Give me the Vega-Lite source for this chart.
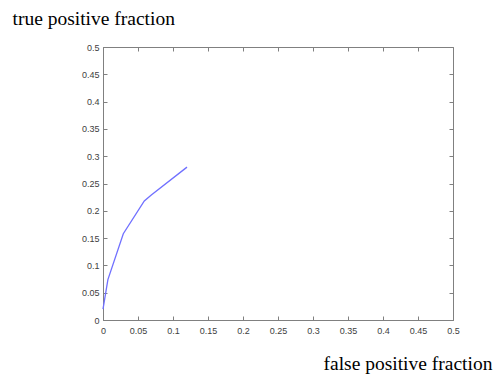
{
  "$schema": "https://vega.github.io/schema/vega-lite/v6.json",
  "width": 350,
  "height": 273,
  "autosize": "none",
  "padding": {"left": 103, "top": 47, "right": 40, "bottom": 59},
  "background": "white",
  "config": {
    "view": {"stroke": "#808080", "strokeWidth": 1},
    "axis": {
      "domainColor": "#808080",
      "tickColor": "#808080",
      "labelColor": "#404040",
      "labelFont": "Liberation Sans",
      "labelFontSize": 9,
      "grid": false,
      "titleFont": "Liberation Serif",
      "titleFontSize": 19.5,
      "titleFontWeight": "normal",
      "titleColor": "#000000"
    }
  },
  "data": {
    "values": [
      {"fpf": 0.0, "tpf": 0.02},
      {"fpf": 0.007, "tpf": 0.074},
      {"fpf": 0.029, "tpf": 0.158},
      {"fpf": 0.059, "tpf": 0.218},
      {"fpf": 0.069, "tpf": 0.229},
      {"fpf": 0.12, "tpf": 0.28}
    ]
  },
  "layer": [
    {
      "mark": {"type": "line", "color": "#7070ff", "strokeWidth": 1.3},
      "encoding": {
        "x": {
          "field": "fpf", "type": "quantitative",
          "scale": {"domain": [0, 0.5], "nice": false, "zero": false},
          "axis": {
            "orient": "bottom",
            "values": [0, 0.05, 0.1, 0.15, 0.2, 0.25, 0.3, 0.35, 0.4, 0.45, 0.5],
            "format": "~g",
            "tickSize": -4,
            "labelPadding": 10,
            "labelFlush": false,
            "title": "false positive fraction",
            "titleAnchor": "start",
            "titleAlign": "left",
            "titleBaseline": "alphabetic",
            "titleX": 220,
            "titleY": 49
          }
        },
        "y": {
          "field": "tpf", "type": "quantitative",
          "scale": {"domain": [0, 0.5], "nice": false, "zero": false},
          "axis": {
            "orient": "left",
            "values": [0, 0.05, 0.1, 0.15, 0.2, 0.25, 0.3, 0.35, 0.4, 0.45, 0.5],
            "format": "~g",
            "tickSize": -4,
            "labelPadding": 8,
            "labelFlush": false,
            "title": "true positive fraction",
            "titleAngle": 0,
            "titleAnchor": "start",
            "titleAlign": "left",
            "titleBaseline": "alphabetic",
            "titleX": -91,
            "titleY": -23
          }
        }
      }
    },
    {
      "mark": {"type": "line", "opacity": 0},
      "encoding": {
        "x": {
          "field": "fpf", "type": "quantitative",
          "scale": {"domain": [0, 0.5], "nice": false, "zero": false},
          "axis": {
            "orient": "top",
            "values": [0, 0.05, 0.1, 0.15, 0.2, 0.25, 0.3, 0.35, 0.4, 0.45, 0.5],
            "labels": false, "domain": false, "tickSize": -4, "title": null
          }
        },
        "y": {
          "field": "tpf", "type": "quantitative",
          "scale": {"domain": [0, 0.5], "nice": false, "zero": false},
          "axis": {
            "orient": "right",
            "values": [0, 0.05, 0.1, 0.15, 0.2, 0.25, 0.3, 0.35, 0.4, 0.45, 0.5],
            "labels": false, "domain": false, "tickSize": -4, "title": null
          }
        }
      }
    }
  ],
  "resolve": {"axis": {"x": "independent", "y": "independent"}}
}
